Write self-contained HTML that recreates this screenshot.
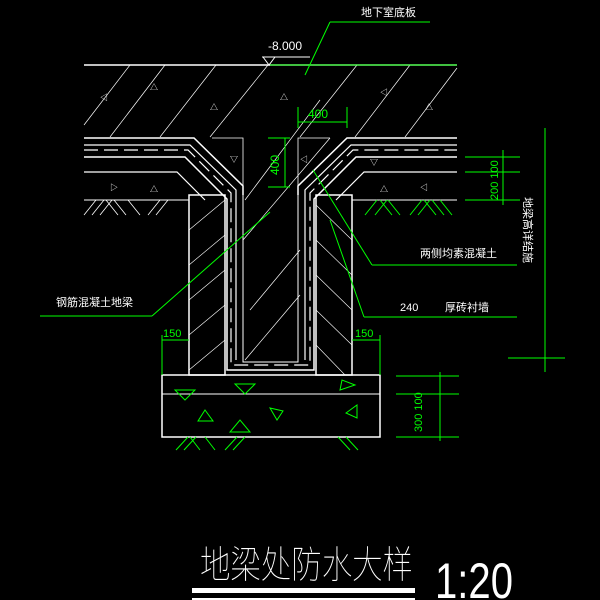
<!DOCTYPE html>
<html><head><meta charset="utf-8"><style>
html,body{margin:0;padding:0;background:#000;}
svg{display:block}
text{font-family:"Liberation Sans","Noto Sans CJK SC",sans-serif;}
</style></head><body>
<svg width="600" height="600" viewBox="0 0 600 600" xmlns="http://www.w3.org/2000/svg">
<rect width="600" height="600" fill="#000"/>
<g stroke="#fff" fill="none" stroke-width="1">
<line x1="84" y1="65" x2="457" y2="65" stroke-width="1.5"/>
<g stroke-width="0.7">
<line x1="84" y1="125" x2="130" y2="65"/><line x1="110" y1="137" x2="165" y2="65"/>
<line x1="160" y1="137" x2="216" y2="65"/><line x1="210" y1="137" x2="268" y2="65"/>
<line x1="245" y1="200" x2="320" y2="100"/><line x1="243" y1="240" x2="330" y2="138"/>
<line x1="300" y1="137" x2="357" y2="65"/><line x1="355" y1="137" x2="410" y2="65"/>
<line x1="405" y1="137" x2="457" y2="68"/>
<line x1="250" y1="310" x2="300" y2="250"/><line x1="245" y1="360" x2="300" y2="295"/>
</g>
<polyline points="84,138 194,138 243,186 243,195" stroke-width="1.5"/>
<polyline points="212,138 243,138 243,186" stroke-width="0.8"/>
<polyline points="457,138 347,138 298,186 298,195" stroke-width="1.5"/>
<polyline points="330,138 298,138 298,186" stroke-width="0.8"/>
<polyline points="84,145 190,145 236,190 236,360" stroke-width="1.2"/>
<polyline points="84,150 188,150 231,193 231,365 310,365 310,193 353,150 457,150" stroke-width="1.2" stroke-dasharray="14,6"/>
<polyline points="457,145 351,145 305,190 305,360" stroke-width="1.2"/>
<polyline points="84,157 185,157 227,199 227,370 314,370 314,199 356,157 457,157" stroke-width="1.5"/>
<polyline points="84,172 177,172 205,200" stroke-width="1.2"/>
<polyline points="457,172 364,172 336,200" stroke-width="1.2"/>
<line x1="84" y1="200" x2="189" y2="200"/><line x1="352" y1="200" x2="457" y2="200"/>
<polyline points="243,195 243,362 298,362 298,195"/>
<rect x="189" y="195" width="36" height="180" stroke-width="1.5"/>
<rect x="316" y="195" width="36" height="180" stroke-width="1.5"/>
<g stroke-width="0.6">
<line x1="189" y1="230" x2="225" y2="200"/><line x1="189" y1="265" x2="225" y2="235"/><line x1="189" y1="300" x2="225" y2="270"/><line x1="189" y1="335" x2="225" y2="305"/><line x1="189" y1="370" x2="225" y2="340"/>
<line x1="316" y1="205" x2="352" y2="240"/><line x1="316" y1="240" x2="352" y2="275"/><line x1="316" y1="275" x2="352" y2="310"/><line x1="316" y1="310" x2="352" y2="345"/><line x1="316" y1="345" x2="345" y2="375"/>
</g>
<rect x="162" y="375" width="218" height="62" stroke-width="1.5"/>
<line x1="162" y1="394" x2="380" y2="394"/>
<g stroke-width="0.8">
<path d="M84,215 L96,200 M92,215 L104,200 M100,215 L112,200 M118,215 L106,200 M126,215 L114,200 M140,215 L128,200 M148,215 L160,200 M156,215 L168,200"/>
</g>
<line x1="262" y1="57" x2="310" y2="57"/>
<polyline points="263,57 269,65 275,57"/>
</g>
<g fill="#fff" font-size="8">
<text x="110" y="190">▷</text><text x="150" y="192">△</text><text x="230" y="162">▽</text><text x="300" y="162">◁</text><text x="370" y="165">▽</text><text x="380" y="192">△</text><text x="420" y="190">◁</text><text x="100" y="100">◁</text><text x="150" y="90">△</text><text x="210" y="110">△</text><text x="280" y="100">△</text><text x="380" y="95">◁</text><text x="425" y="110">△</text>
</g>
<g stroke="#0f0" fill="none" stroke-width="1">
<line x1="330" y1="22" x2="430" y2="22"/><line x1="330" y1="22" x2="305" y2="75"/>
<line x1="270" y1="65" x2="457" y2="65"/>
<line x1="298" y1="107" x2="298" y2="128"/><line x1="347" y1="107" x2="347" y2="128"/><line x1="298" y1="122" x2="347" y2="122"/>
<line x1="268" y1="138" x2="290" y2="138"/><line x1="268" y1="187" x2="290" y2="187"/><line x1="285" y1="138" x2="285" y2="187"/>
<line x1="313" y1="170" x2="372" y2="265"/><line x1="372" y1="265" x2="517" y2="265"/>
<line x1="330" y1="220" x2="364" y2="317"/><line x1="364" y1="317" x2="517" y2="317"/>
<line x1="270" y1="212" x2="152" y2="316"/><line x1="152" y1="316" x2="40" y2="316"/>
<line x1="162" y1="340" x2="189" y2="340"/><line x1="162" y1="335" x2="162" y2="375"/>
<line x1="352" y1="340" x2="380" y2="340"/><line x1="380" y1="335" x2="380" y2="375"/>
<line x1="545" y1="128" x2="545" y2="372"/><line x1="508" y1="358" x2="565" y2="358"/>
<line x1="465" y1="157" x2="520" y2="157"/><line x1="465" y1="172" x2="520" y2="172"/><line x1="465" y1="200" x2="520" y2="200"/>
<line x1="503" y1="150" x2="503" y2="205"/>
<line x1="396" y1="376" x2="459" y2="376"/><line x1="396" y1="394" x2="459" y2="394"/><line x1="396" y1="437" x2="459" y2="437"/>
<line x1="440" y1="372" x2="440" y2="441"/>
<path d="M365,215 L377,200 M375,215 L387,200 M392,215 L380,200 M400,215 L388,200 M410,215 L422,200 M418,215 L430,200 M436,215 L424,200 M444,215 L432,200 M452,215 L440,200"/>
<path d="M176,450 L188,437 M184,450 L196,437 M200,450 L190,437 M215,450 L205,437 M225,450 L237,437 M233,450 L245,437 M350,450 L338,437 M358,450 L346,437"/>
<polygon points="175,390 195,390 185,400"/><polygon points="235,384 255,384 245,394"/><polygon points="340,390 355,385 342,380"/>
<polygon points="198,421 213,421 205,410"/><polygon points="230,432 250,432 240,420"/><polygon points="270,408 283,411 277,420"/><polygon points="357,405 357,418 346,413"/>
</g>
<g fill="#0f0">
<text x="268" y="50" font-size="12" fill="#fff">-8.000</text>
<text x="308" y="118" font-size="12">400</text>
<text x="0" y="0" font-size="12" transform="translate(279,175) rotate(-90)">400</text>
<text x="163" y="337" font-size="11">150</text>
<text x="355" y="337" font-size="11">150</text>
<text x="0" y="0" font-size="11" transform="translate(498,200) rotate(-90)">200 100</text>
<text x="0" y="0" font-size="11" transform="translate(422,432) rotate(-90)">300 100</text>
</g>
<g fill="#fff">
<text x="361" y="16" font-size="11">地下室底板</text>
<text x="420" y="257" font-size="11">两侧均素混凝土</text>
<text x="400" y="311" font-size="11">240</text>
<text x="445" y="311" font-size="11">厚砖衬墙</text>
<text x="56" y="306" font-size="11">钢筋混凝土地梁</text>
<text x="0" y="0" font-size="11" transform="translate(524,197) rotate(90)">地梁高详结施</text>
<text x="200" y="578" font-size="38" font-weight="100" textLength="213" lengthAdjust="spacingAndGlyphs">地梁处防水大样</text>
<text x="435" y="598" font-size="50" font-weight="100" textLength="78" lengthAdjust="spacingAndGlyphs">1:20</text>
</g>
<rect x="192" y="588" width="223" height="5" fill="#fff"/>
<rect x="192" y="598" width="223" height="2" fill="#fff"/>
</svg>
</body></html>
